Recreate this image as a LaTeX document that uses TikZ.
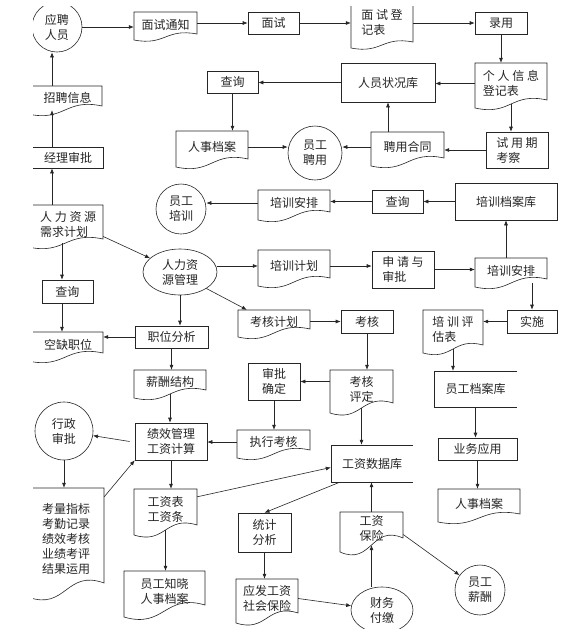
\documentclass[tikz,border=0pt]{standalone}
\usepackage{fontspec}
\newfontfamily\cjkf{Noto Sans CJK SC}
\usetikzlibrary{shapes.geometric,arrows.meta,calc}
\tikzset{
  ln/.style={line width=0.6pt, draw=black!85},
  base/.style={font=\cjkf\fontsize{12}{15}\selectfont, inner sep=0pt, align=left, text=black!85},
  box/.style={base, draw=black!85, line width=0.6pt, rectangle},
  docn/.style={base, rectangle},
  opn/.style={base, rectangle},
  circ/.style={base, draw=black!85, line width=0.6pt, circle, align=center},
  ell/.style={base, draw=black!85, line width=0.6pt, ellipse, align=center},
  arr/.style={ln, -{Latex[length=5pt,width=4pt]}},
}
\newcommand\mkn[7]{\node[#1, minimum width={#4-#3}, minimum height={#6-#5}] (#2) at ({(#3+#4)/2},{(#5+#6)/2}) {#7};}
\newcommand\mkd[7]{\mkn{docn}{#1}{#2}{#3}{#4}{#5}{#7}%
  \draw[ln] (#2,#4) -- (#3,#4) -- (#3,{#5-#6/2}) .. controls ({(#2+#3)/2},{#5-1.5*#6}) and ({(#2+#3)/2},{#5+1.5*#6}) .. (#2,{#5+#6/2}) -- cycle;}
\newcommand\mko[6]{\mkn{opn}{#1}{#2}{#3}{#4}{#5}{#6}%
  \draw[ln] (#3,#4) -- (#2,#4) -- (#2,#5) -- (#3,#5);}
\begin{document}
\begin{tikzpicture}[x=1pt,y=-1pt]
\fill[white] (0,0) rectangle (562,641);
\useasboundingbox (0,0) rectangle (562,641);
\begin{scope}
\clip (33,6) rectangle (562,628);
% top row
\node[circ, minimum size=50] (yp) at (57,27) {应聘\\人员};
\mkd{msn}{134}{197}{12}{37}{6}{面试通知}
\mkn{box}{ms}{248}{299}{12}{34}{面试}
\mkd{msdj}{351}{413}{0}{45}{6}{面 试 登\\记表}
\mkn{box}{ly}{475}{527}{12}{34}{录用}
\mkd{grxx}{475}{547}{63}{104}{8}{个 人 信 息\\登记表}
\mkn{box}{ryzk}{341}{435}{63}{102}{人员状况库}
\mkn{box}{cxa}{207}{258}{71}{93}{查询}
\mkd{rsdaa}{176}{248}{131}{163}{8}{人事档案}
\node[circ, minimum size=54] (ygpy) at (315,153) {员工\\聘用};
\mkd{pyht}{371}{444}{132}{162}{8}{聘用合同}
\mkn{box}{sykc}{486}{548}{132}{168}{试 用 期\\考察}
% left column
\mkd{zpxx}{28}{102}{86}{110}{8}{\ \ 招聘信息}
\mkn{box}{jlsp}{28}{103}{147}{168}{\ \ 经理审批}
\mkd{xqjh}{28}{103}{205}{243}{8}{\ \ 人 力 资 源\\\ \ 需求计划}
\mkn{box}{cxb}{42}{93}{280}{303}{查询}
\mkd{kqzw}{28}{103}{332}{357}{8}{\ \ 空缺职位}
\node[ell, minimum width=74, minimum height=46] (rlzygl) at (180,272) {人力资\\源管理};
\node[circ, minimum size=50] (ygpx) at (181,209) {员工\\培训};
% training
\mkd{pxapa}{258}{330}{190}{216}{8}{培训安排}
\mkn{box}{cxc}{372}{423}{190}{213}{查询}
\mkn{box}{pxdak}{455}{557}{183}{220}{培训档案库}
\mkd{pxjh}{258}{330}{250}{282}{8}{培训计划}
\mkn{box}{sqsp}{372}{434}{251}{288}{申 请 与\\审批}
\mkd{pxapb}{475}{547}{258}{283}{8}{培训安排}
\mkn{box}{ss}{507}{557}{310}{333}{实施}
\mkd{pxpg}{423}{483}{310}{349}{8}{培 训 评\\估表}
\mko{ygdak}{434}{517}{371}{407}{员工档案库}
\mkn{box}{ywyy}{438}{517}{438}{460}{业务应用}
\mkd{rsdab}{438}{520}{489}{518}{8}{人事档案}
% middle
\mkn{box}{zwfx}{135}{208}{326}{348}{职位分析}
\mkd{xcjg}{134}{206}{370}{394}{8}{薪酬结构}
\mkd{khjh}{238}{310}{310}{333}{8}{考核计划}
\mkn{box}{kh}{341}{393}{310}{333}{考核}
\mkd{khpd}{330}{393}{370}{408}{10}{考核\\评定}
\mkn{box}{spqd}{248}{300}{363}{400}{审批\\确定}
\mkd{zxkh}{237}{310}{430}{454}{8}{执行考核}
\mkn{box}{jxgl}{135}{207}{423}{460}{绩效管理\\工资计算}
\node[circ, minimum size=58] (xzsp) at (64,431) {行政\\审批};
\mkd{klzb}{28}{104}{488}{590}{14}{考量指标\\考勤记录\\绩效考核\\业绩考评\\结果运用}
\mkd{gzb}{134}{197}{489}{530}{10}{工资表\\工资条}
\mkd{ygzx}{124}{205}{571}{611}{12}{员工知晓\\人事档案}
\mko{gzsjk}{331}{413}{445}{482}{工资数据库}
\mkn{box}{tjfx}{238}{291}{513}{552}{统计\\分析}
\mkd{yfgz}{236}{298}{579}{618}{10}{应发工资\\社会保险}
\node[ell, minimum width=62, minimum height=46] (cwfj) at (382,610) {财务\\付缴};
\mkd{gzbx}{340}{403}{512}{545}{14}{工资\\保险}
\node[circ, minimum size=50] (ygxc) at (480,590) {员工\\薪酬};
% coordinates for vertical lines
\coordinate (lx) at (52,0);
\coordinate (lxb) at (62,0);
% connectors
\draw[arr] (yp.east) -- (msn.west |- yp.east);
\draw[arr] (msn.east |- ms.west) -- (ms.west);
\draw[arr] (ms.east) -- (msdj.west |- ms.east);
\draw[arr] (msdj.east |- ly.west) -- (ly.west);
\draw[arr] (ly.south) -- (ly.south |- grxx.north);
\draw[arr] (grxx.west) -- (ryzk.east |- grxx.west);
\draw[arr] (ryzk.west) -- (cxa.east |- ryzk.west);
\draw[arr] (cxa.south) -- (cxa.south |- rsdaa.north);
\draw[arr] (rsdaa.east) -- (rsdaa.east -| ygpy.west);
\draw[arr] (grxx.south) -- (grxx.south |- sykc.north);
\draw[arr] (sykc.west) -- (pyht.east |- sykc.west);
\draw[arr] (pyht.west) -- (pyht.west -| ygpy.east);
\draw[arr] (pyht.north -| ryzk.south) -- (ryzk.south);
\draw[arr] (xqjh.north -| lx) -- (jlsp.south -| lx);
\draw[arr] (jlsp.north -| lx) -- (zpxx.south -| lx);
\draw[arr] (zpxx.north -| lx) -- (yp.south -| lx);
\draw[arr] (xqjh.south -| lxb) -- (cxb.north -| lxb);
\draw[arr] (cxb.south -| lxb) -- (kqzw.north -| lxb);
\draw[arr] ($(xqjh.east)!0.65!(xqjh.south east)$) -- (rlzygl);
\draw[arr] (rlzygl.south) -- (rlzygl.south |- zwfx.north);
\draw[arr] (pxjh.west -| rlzygl.east) -- (pxjh.west);
\draw[arr] (pxjh.east) -- (sqsp.west |- pxjh.east);
\draw[arr] (sqsp.east) -- (pxapb.west |- sqsp.east);
\draw[arr] (pxapb.north -| pxdak.south) -- (pxdak.south);
\draw[arr] (ss.north |- pxapb.south) -- (ss.north);
\draw[arr] (pxdak.west) -- (cxc.east |- pxdak.west);
\draw[arr] (cxc.west) -- (pxapa.east |- cxc.west);
\draw[arr] (pxapa.west) -- (pxapa.west -| ygpx.east);
\draw[arr] (ss.west) -- (pxpg.east |- ss.west);
\draw[arr] (pxpg.south) -- (pxpg.south |- ygdak.north);
\draw[arr] (ygdak.south) -- (ygdak.south |- ywyy.north);
\draw[arr] (ywyy.south) -- (ywyy.south |- rsdab.north);
\draw[arr] (zwfx.west) -- (kqzw.east |- zwfx.west);
\draw[arr] (zwfx.south) -- (zwfx.south |- xcjg.north);
\draw[arr] (rlzygl.south east) -- ([xshift=9pt]khjh.north west);
\draw[arr] (khjh.east) -- (kh.west |- khjh.east);
\draw[arr] (kh.south) -- (kh.south |- khpd.north);
\draw[arr] (khpd.west |- spqd.east) -- (spqd.east);
\draw[arr] (spqd.south) -- (spqd.south |- zxkh.north);
\draw[arr] (zxkh.west) -- (jxgl.east |- zxkh.west);
\draw[arr] (xcjg.south) -- (xcjg.south |- jxgl.north);
\draw[arr] ([xshift=-5pt]jxgl.west) -- (xzsp);
\draw[arr] (xzsp.south) -- (xzsp.south |- klzb.north);
\draw[arr] ($(klzb.north east)+(0,9)$) -- (jxgl.south west);
\draw[arr] (jxgl.south) -- (jxgl.south |- gzb.north);
\draw[arr] ($(gzb.north east)+(0,8)$) -- ($(gzsjk.west)+(0,4)$);
\draw[arr] (gzb.south) -- (gzb.south |- ygzx.north);
\draw[arr] ($(gzsjk.south west)+(9,0)$) -- (tjfx.north);
\draw[arr] (tjfx.south) -- (tjfx.south |- yfgz.north);
\draw[arr] (yfgz.east) -- (cwfj);
\draw[arr] (gzbx.south |- cwfj.north) -- (gzbx.south);
\draw[arr] (gzbx.north) -- (gzbx.north |- gzsjk.south);
\draw[arr] (khpd.south) -- (khpd.south |- gzsjk.north);
\draw[arr] ($(gzbx.east)+(0,6)$) -- (ygxc);
\end{scope}
\end{tikzpicture}
\end{document}
